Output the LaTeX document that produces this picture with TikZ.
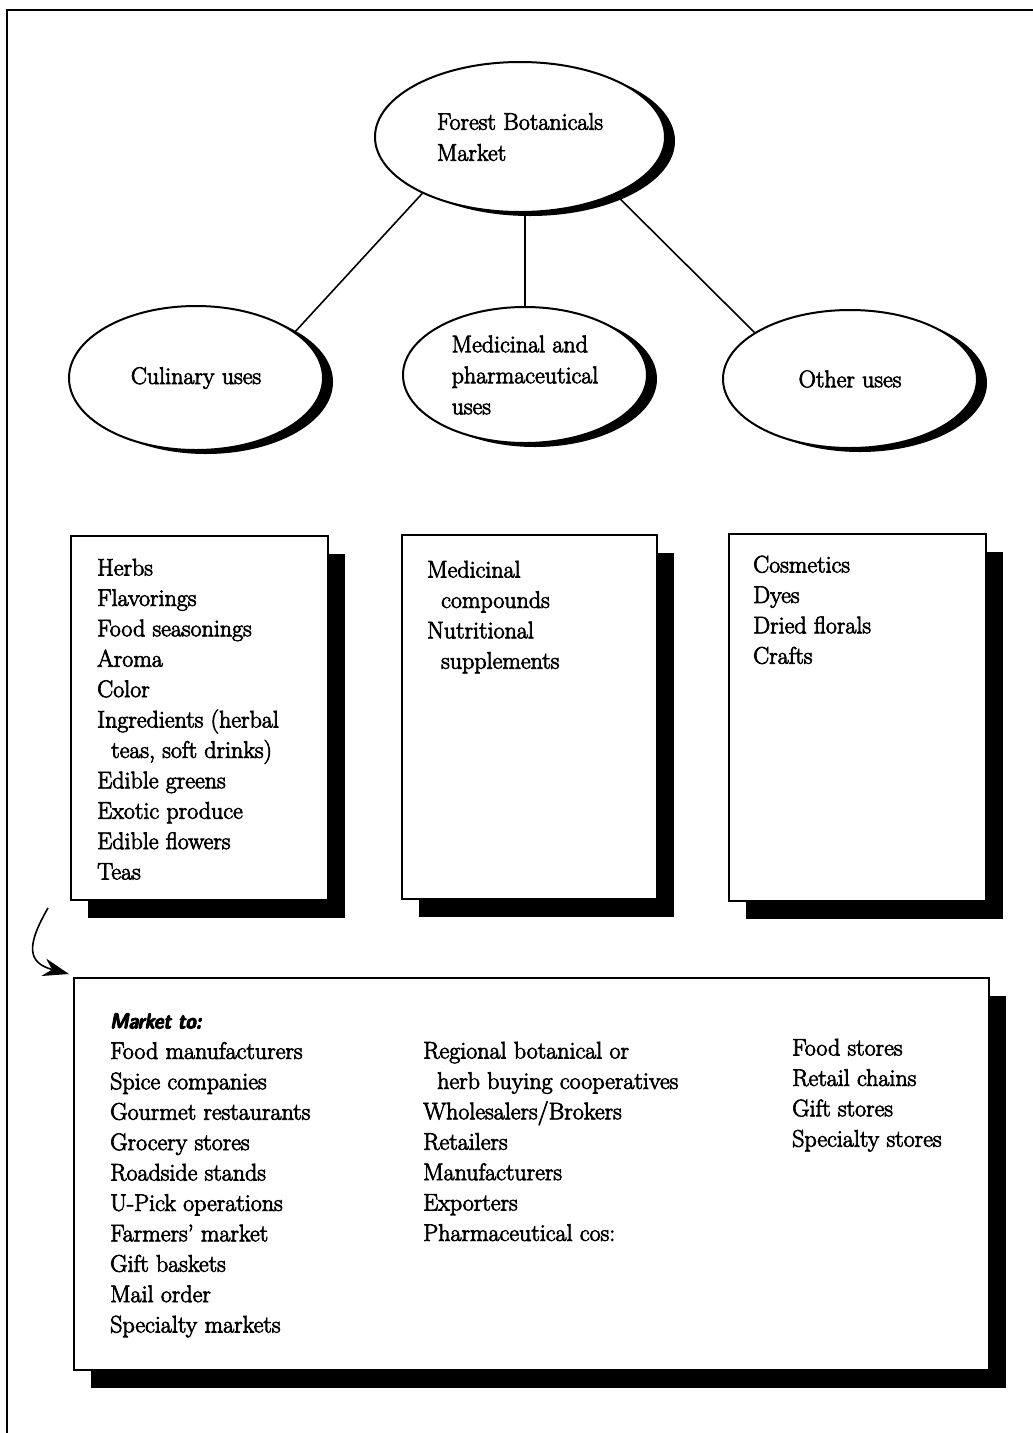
\documentclass[tikz,border=0pt]{standalone}
\usepackage{fontspec}
\setmainfont{Latin Modern Roman}[FakeBold=3]
\setsansfont{Latin Modern Sans}[FakeBold=4,FakeStretch=0.85]
\usepackage{tikz}
\usetikzlibrary{shapes.geometric,shadows,arrows.meta}
\tikzset{usage/.style={ellipse,draw,line width=2pt,fill=white,inner sep=0pt,align=left,font=\fontsize{24}{31}\selectfont,general shadow={fill=black,shadow xshift=10pt,shadow yshift=-4pt}}}
\tikzset{listbox/.style={rectangle,draw,line width=2pt,fill=white,inner sep=0pt,anchor=north west,general shadow={fill=black,shadow xshift=17pt,shadow yshift=-18pt}}}
\tikzset{items/.style={anchor=north west,align=left,inner sep=0pt,font=\fontsize{24}{30.4}\selectfont}}
\tikzset{link/.style={line width=1.6pt}}
\newcommand{\ind}{\hspace*{14pt}}

\begin{document}
\begin{tikzpicture}[x=1pt,y=-1pt]
    \useasboundingbox (0,0) rectangle (1033,1433);
    \draw[line width=1.6pt] (1033,10) -- (7,10) -- (7,1433);
    % the market and its three uses
    \node[usage,minimum width=290pt,minimum height=150pt] (market) at (520,137) {Forest Botanicals\\Market};
    \node[usage,minimum width=254pt,minimum height=144pt] (culinary) at (196,378) {Culinary uses};
    \node[usage,minimum width=244pt,minimum height=136pt] (medicinal) at (525,375) {Medicinal and\\pharmaceutical\\uses};
    \node[usage,minimum width=254pt,minimum height=138pt] (other) at (850,379) {Other uses};
    \draw[link] (market.210) -- (culinary.25);
    \draw[link] (market.south -| medicinal.north) -- (medicinal.north);
    \draw[link] (market.-31) -- (other.154);
    % product lists
    \node[listbox,minimum width=257pt,minimum height=364pt] (culbox) at (70,535) {};
    \node[listbox,minimum width=255pt,minimum height=364pt] (medbox) at (401,534) {};
    \node[listbox,minimum width=257pt,minimum height=367pt] (othbox) at (728,533) {};
    \node[items] (culitems) at (97,554) {\strut Herbs\\Flavorings\\Food seasonings\\Aroma\\Color\\Ingredients (herbal\\\ind teas, soft drinks)\\Edible greens\\Exotic produce\\Edible flowers\\Teas};
    \node[items] (meditems) at (427,556) {\strut Medicinal\\\ind compounds\\Nutritional\\\ind supplements};
    \node[items] (othitems) at (753,551) {\strut Cosmetics\\Dyes\\Dried florals\\Crafts};
    % buyers
    \node[listbox,minimum width=915pt,minimum height=392pt] (tobox) at (73,977) {};
    \node[items] (buyers) at (110,1007) {\strut{\fontsize{22}{30.4}\sffamily\bfseries\itshape Market to:}\\Food manufacturers\\Spice companies\\Gourmet restaurants\\Grocery stores\\Roadside stands\\U-Pick operations\\Farmers' market\\Gift baskets\\Mail order\\Specialty markets};
    \node[items] (traders) at (423,1037) {\strut Regional botanical or\\\ind herb buying cooperatives\\Wholesalers/Brokers\\Retailers\\Manufacturers\\Exporters\\Pharmaceutical cos:};
    \node[items] (stores) at (792,1034) {\strut Food stores\\Retail chains\\Gift stores\\Specialty stores};
    \coordinate (hook) at (48,908);
    \draw[link,-{Stealth[length=26pt,width=18pt]}] (hook) to[out=-120,in=165,looseness=1.6] ([shift={(-4pt,3pt)}]tobox.north west);
\end{tikzpicture}
\end{document}
